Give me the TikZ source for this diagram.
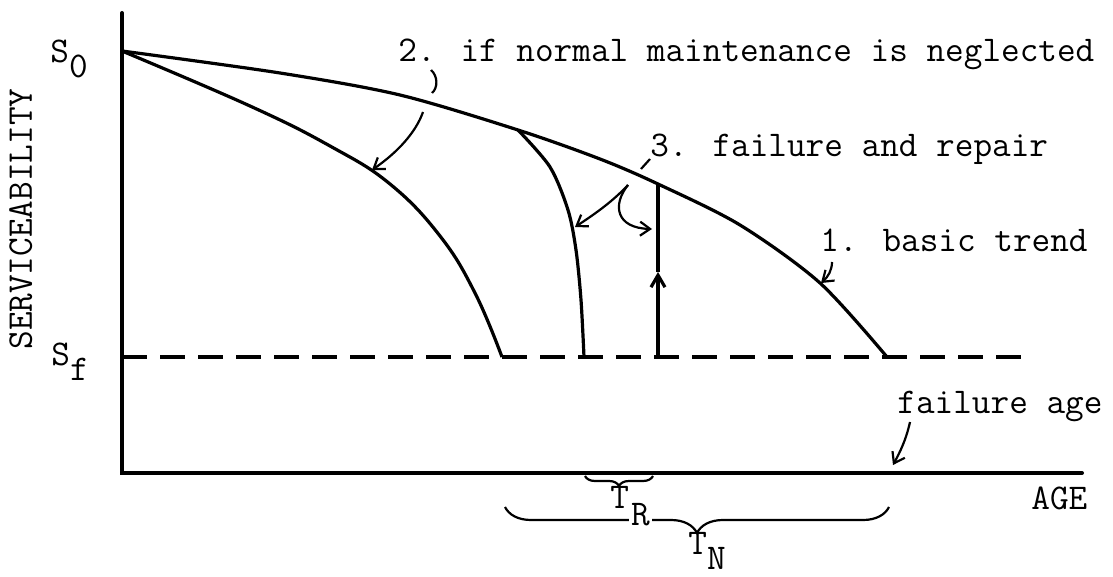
\documentclass[tikz,border=0pt]{standalone}
\usepackage{fontspec}
\usetikzlibrary{arrows.meta, decorations.pathreplacing}

\newcommand{\lowsub}[2][7.5pt]{\raisebox{-#1}{#2}}
\setlength{\fboxsep}{1pt}

\begin{document}
\begin{tikzpicture}[
  x=0.5pt, y=-0.5pt,
  every node/.style={font=\ttfamily\fontsize{18.1}{22}\selectfont, inner sep=0pt},
  lbl/.style={anchor=base west},
  axis/.style={line width=2pt, line cap=round},
  curve/.style={line width=1.6pt},
  leader/.style={line width=1.1pt},
  arr/.style={leader, -{Straight Barb[length=5pt, width=7pt]}},
  limit/.style={line width=2pt, dash pattern=on 12.5pt off 6.5pt},
  span/.style={line width=1.1pt, decorate, decoration={brace, mirror, amplitude=#1}}
]
  \useasboundingbox (0,0) rectangle (1113,577);

  % axes and failure level
  \coordinate (top) at (122,13);
  \coordinate (origin) at (122,473);
  \coordinate (xend) at (1082,473);
  \draw[axis] (top) -- (origin) -- (xend);
  \coordinate (sfleft) at (122,357);
  \coordinate (sfright) at (1031,357);
  \draw[limit] (sfleft) -- (sfright);

  % the three serviceability curves
  \coordinate (s0) at (122,51);
  \coordinate (branch) at (518,130);
  \coordinate (repairtop) at (658,184);
  \coordinate (repairmid) at (658,272);
  \coordinate (repairbot) at (658,357);
  \draw[curve] plot[smooth] coordinates {(122,51) (280,73) (400,95) (518,130) (600,159) (658,184) (740,225) (820,283) (887,357)};
  \draw[curve] plot[smooth, tension=0.7] coordinates {(122,51) (250,106) (330,146) (390,184) (440,236) (475,293) (502,357)};
  \draw[curve] plot[smooth] coordinates {(518,130) (550,167) (568,210) (576,250) (581,300) (584,357)};
  \draw[curve, -{Straight Barb[length=6pt, width=7pt]}] (repairbot) -- (repairmid);
  \draw[curve] (repairmid) -- (repairtop);

  % labels
  \node[lbl] (neglect) at (398,62) {2. if normal maintenance is neglected};
  \node[lbl] (repair) at (650,157) {3. failure and repair};
  \node[lbl] (trend) at (820,252) {1. basic trend};
  \node[lbl] (fage) at (897,413) {failure age};
  \node[lbl] (age) at (1031,509) {AGE};
  \node[lbl, rotate=90] (svc) at (32,350) {SERVICEABILITY};
  \node[lbl] (szero) at (50,63) {S\lowsub{0}};
  \node[lbl] (sfail) at (51,365) {S\lowsub{f}};

  % leaders
  \coordinate (n1) at (431,70);
  \coordinate (n2) at (432,93);
  \coordinate (n3) at (423,112);
  \coordinate (n4) at (372,170);
  \draw[leader] (n1) .. controls (438,76) and (438,88) .. (n2);
  \draw[arr] (n3) .. controls (416,132) and (398,152) .. (n4);
  \coordinate (r1) at (650,159);
  \coordinate (r2) at (641,169);
  \coordinate (r3) at (628,185);
  \coordinate (r4) at (575,227);
  \coordinate (r5) at (652,229);
  \draw[leader] (r1) -- (r2);
  \draw[arr] (r3) .. controls (614,200) and (598,212) .. (r4);
  \draw[arr] (r3) .. controls (612,205) and (616,228) .. (r5);
  \coordinate (t1) at (832,262);
  \coordinate (t2) at (821,283);
  \draw[arr] (t1) .. controls (832,270) and (828,277) .. (t2);
  \coordinate (f1) at (910,422);
  \coordinate (f2) at (893,465);
  \draw[arr] (f1) .. controls (906,440) and (900,452) .. (f2);

  % time spans
  \coordinate (tra) at (585,476);
  \coordinate (trb) at (653,476);
  \draw[span=5pt] (tra) -- (trb);
  \coordinate (tna) at (505,507);
  \coordinate (tnb) at (889,507);
  \draw[span=13pt] (tna) -- (tnb);
  \node[lbl] (tr) at (610,508) {T\lowsub[8.5pt]{\colorbox{white}{R}}};
  \node[lbl] (tn) at (688,554) {T\lowsub[7.5pt]{N}};
\end{tikzpicture}
\end{document}
